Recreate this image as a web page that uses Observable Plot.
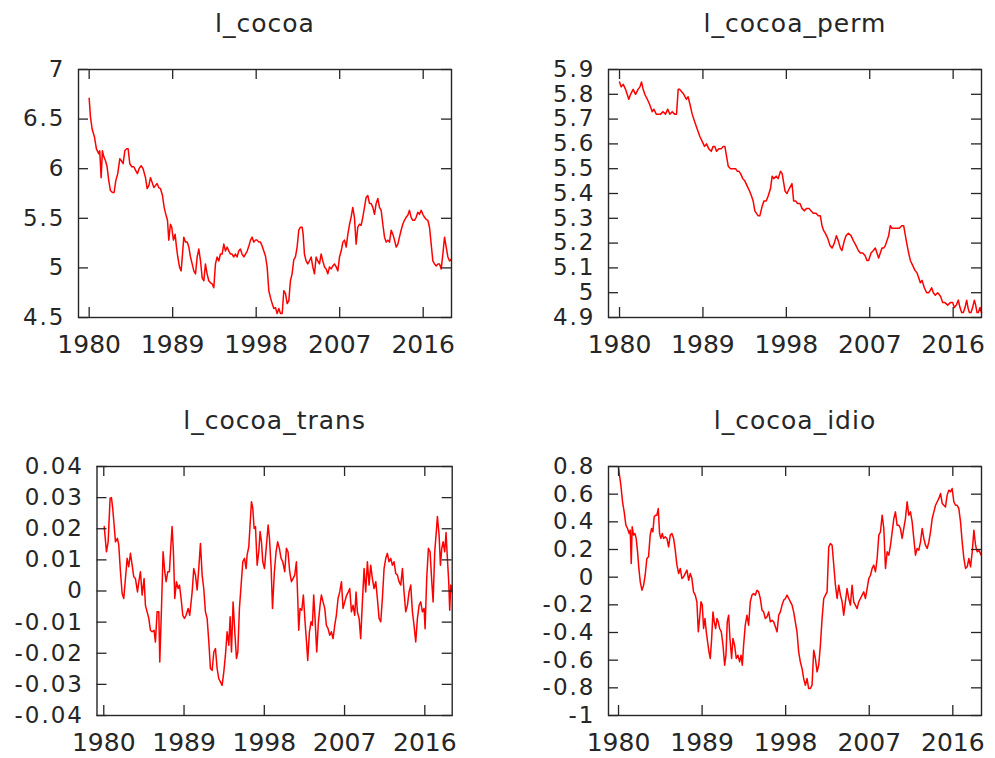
<!DOCTYPE html>
<html><head><meta charset="utf-8">
<script src="https://cdn.jsdelivr.net/npm/d3@7"></script>
<script src="https://cdn.jsdelivr.net/npm/@observablehq/plot@0.6"></script>
<style>
body{margin:0;background:#fff;}
#wrap{position:relative;width:995px;height:758px;background:#fff;overflow:hidden;}
#wrap svg{position:absolute;}
</style></head><body><div id="wrap"></div>
<script>
// ---- data: [year, value] ----
const cocoa = [[1980.0,6.71],[1980.14,6.52],[1980.32,6.40],[1980.57,6.32],[1980.78,6.20],[1981.04,6.15],[1981.14,6.18],[1981.29,5.91],[1981.43,6.18],[1981.58,6.12],[1981.76,6.08],[1981.93,6.02],[1982.11,5.88],[1982.29,5.78],[1982.51,5.76],[1982.69,5.76],[1982.87,5.88],[1983.08,5.95],[1983.3,6.10],[1983.48,6.08],[1983.66,6.05],[1983.84,6.18],[1984.02,6.20],[1984.2,6.20],[1984.38,6.05],[1984.59,6.02],[1984.81,6.02],[1985.02,5.98],[1985.2,5.95],[1985.38,6.00],[1985.6,6.03],[1985.81,6.00],[1986.07,5.91],[1986.25,5.80],[1986.43,5.83],[1986.61,5.91],[1986.79,5.86],[1986.97,5.81],[1987.15,5.83],[1987.32,5.85],[1987.5,5.81],[1987.68,5.80],[1987.9,5.73],[1988.08,5.61],[1988.26,5.54],[1988.44,5.48],[1988.58,5.28],[1988.76,5.44],[1988.9,5.41],[1989.08,5.28],[1989.26,5.34],[1989.41,5.21],[1989.55,5.11],[1989.73,5.01],[1989.91,4.97],[1990.06,5.14],[1990.2,5.31],[1990.38,5.26],[1990.56,5.26],[1990.74,5.21],[1990.92,5.11],[1991.1,5.04],[1991.28,4.97],[1991.46,4.94],[1991.64,5.11],[1991.82,5.19],[1992.0,5.07],[1992.18,4.90],[1992.36,4.87],[1992.53,5.04],[1992.71,4.94],[1992.89,4.87],[1993.07,4.85],[1993.25,4.84],[1993.43,4.80],[1993.61,5.04],[1993.79,5.11],[1993.97,5.07],[1994.15,5.14],[1994.33,5.14],[1994.51,5.24],[1994.69,5.17],[1994.87,5.21],[1995.05,5.17],[1995.23,5.14],[1995.4,5.14],[1995.58,5.11],[1995.76,5.14],[1995.94,5.11],[1996.12,5.17],[1996.3,5.19],[1996.48,5.14],[1996.67,5.11],[1996.85,5.14],[1997.03,5.17],[1997.21,5.22],[1997.39,5.28],[1997.56,5.31],[1997.74,5.26],[1997.92,5.28],[1998.1,5.28],[1998.28,5.26],[1998.46,5.26],[1998.64,5.22],[1998.82,5.17],[1999.0,5.12],[1999.18,5.01],[1999.36,4.77],[1999.54,4.70],[1999.72,4.64],[1999.9,4.59],[2000.08,4.60],[2000.26,4.54],[2000.44,4.59],[2000.62,4.54],[2000.8,4.54],[2000.98,4.77],[2001.16,4.74],[2001.34,4.64],[2001.52,4.67],[2001.69,4.87],[2001.87,4.94],[2002.05,5.08],[2002.23,5.11],[2002.41,5.21],[2002.59,5.38],[2002.77,5.41],[2002.95,5.41],[2003.06,5.34],[2003.2,5.14],[2003.38,5.07],[2003.56,5.04],[2003.74,5.07],[2003.92,5.11],[2004.1,5.01],[2004.28,4.94],[2004.46,5.11],[2004.64,5.07],[2004.82,5.04],[2005.0,5.14],[2005.18,5.07],[2005.36,5.01],[2005.54,4.99],[2005.72,4.94],[2005.9,5.01],[2006.08,4.99],[2006.26,5.02],[2006.44,5.04],[2006.62,5.01],[2006.8,4.97],[2006.98,5.11],[2007.16,5.17],[2007.34,5.26],[2007.52,5.28],[2007.7,5.21],[2007.88,5.34],[2008.06,5.44],[2008.23,5.51],[2008.41,5.61],[2008.59,5.51],[2008.77,5.24],[2008.95,5.41],[2009.13,5.44],[2009.31,5.43],[2009.49,5.51],[2009.67,5.61],[2009.85,5.71],[2010.03,5.73],[2010.21,5.65],[2010.39,5.65],[2010.57,5.61],[2010.75,5.54],[2010.93,5.65],[2011.11,5.70],[2011.29,5.61],[2011.47,5.58],[2011.65,5.44],[2011.83,5.31],[2012.01,5.26],[2012.19,5.28],[2012.37,5.26],[2012.55,5.38],[2012.73,5.34],[2012.91,5.28],[2013.09,5.21],[2013.27,5.24],[2013.44,5.31],[2013.62,5.38],[2013.8,5.44],[2013.98,5.48],[2014.16,5.51],[2014.34,5.53],[2014.52,5.58],[2014.7,5.51],[2014.88,5.48],[2015.06,5.48],[2015.24,5.51],[2015.42,5.56],[2015.6,5.54],[2015.78,5.58],[2015.96,5.54],[2016.14,5.51],[2016.32,5.49],[2016.5,5.48],[2016.68,5.41],[2016.86,5.24],[2017.04,5.07],[2017.22,5.04],[2017.4,5.02],[2017.58,5.04],[2017.76,5.04],[2017.94,4.99],[2018.12,5.14],[2018.3,5.31],[2018.48,5.21],[2018.66,5.11],[2018.84,5.07],[2019.05,5.09]];

const cocoaPerm = [[1980.0,5.85],[1980.18,5.83],[1980.4,5.84],[1980.65,5.82],[1981.0,5.78],[1981.19,5.80],[1981.47,5.82],[1981.73,5.80],[1982.0,5.82],[1982.2,5.83],[1982.37,5.85],[1982.55,5.82],[1982.73,5.80],[1983.0,5.78],[1983.24,5.76],[1983.53,5.73],[1983.7,5.74],[1983.96,5.72],[1984.17,5.72],[1984.42,5.72],[1984.7,5.73],[1984.96,5.72],[1985.2,5.74],[1985.43,5.72],[1985.68,5.73],[1985.94,5.72],[1986.15,5.72],[1986.33,5.82],[1986.5,5.82],[1986.7,5.81],[1986.94,5.80],[1987.2,5.78],[1987.4,5.79],[1987.6,5.76],[1987.84,5.72],[1988.1,5.69],[1988.38,5.66],[1988.67,5.63],[1988.92,5.61],[1989.17,5.59],[1989.39,5.60],[1989.64,5.58],[1989.9,5.57],[1990.1,5.59],[1990.28,5.59],[1990.47,5.57],[1990.72,5.58],[1990.97,5.58],[1991.19,5.59],[1991.37,5.59],[1991.55,5.55],[1991.73,5.51],[1991.98,5.50],[1992.27,5.50],[1992.52,5.50],[1992.7,5.49],[1992.88,5.49],[1993.06,5.48],[1993.3,5.46],[1993.53,5.45],[1993.78,5.43],[1994.03,5.41],[1994.24,5.39],[1994.42,5.37],[1994.6,5.33],[1994.78,5.32],[1994.96,5.31],[1995.14,5.31],[1995.4,5.35],[1995.58,5.37],[1995.83,5.37],[1996.04,5.39],[1996.29,5.42],[1996.47,5.47],[1996.65,5.46],[1996.9,5.47],[1997.12,5.46],[1997.37,5.49],[1997.55,5.48],[1997.73,5.44],[1997.86,5.41],[1998.07,5.40],[1998.32,5.42],[1998.61,5.44],[1998.79,5.37],[1999.0,5.37],[1999.22,5.36],[1999.47,5.36],[1999.69,5.34],[1999.94,5.33],[2000.19,5.34],[2000.45,5.34],[2000.66,5.33],[2000.91,5.32],[2001.2,5.32],[2001.45,5.31],[2001.67,5.31],[2001.85,5.27],[2002.03,5.25],[2002.2,5.24],[2002.46,5.22],[2002.71,5.19],[2002.93,5.18],[2003.18,5.20],[2003.4,5.23],[2003.6,5.21],[2003.83,5.18],[2004.0,5.17],[2004.26,5.21],[2004.44,5.23],[2004.7,5.24],[2004.98,5.23],[2005.23,5.21],[2005.52,5.19],[2005.77,5.17],[2005.99,5.16],[2006.24,5.16],[2006.49,5.15],[2006.7,5.13],[2006.88,5.13],[2007.14,5.16],[2007.39,5.17],[2007.6,5.18],[2007.78,5.16],[2007.96,5.14],[2008.14,5.16],[2008.32,5.18],[2008.5,5.18],[2008.68,5.19],[2008.86,5.21],[2009.04,5.23],[2009.22,5.27],[2009.4,5.26],[2009.65,5.26],[2009.94,5.26],[2010.19,5.26],[2010.45,5.27],[2010.66,5.27],[2010.8,5.24],[2010.99,5.20],[2011.2,5.16],[2011.38,5.13],[2011.63,5.11],[2011.88,5.09],[2012.1,5.08],[2012.28,5.06],[2012.46,5.04],[2012.64,5.05],[2012.89,5.02],[2013.14,5.00],[2013.36,5.00],[2013.54,5.01],[2013.68,5.02],[2013.86,5.00],[2014.08,4.99],[2014.33,5.00],[2014.55,4.99],[2014.7,4.98],[2014.87,4.96],[2015.12,4.96],[2015.41,4.95],[2015.7,4.96],[2015.95,4.96],[2016.13,4.94],[2016.35,4.95],[2016.56,4.97],[2016.74,4.94],[2016.92,4.92],[2017.1,4.92],[2017.28,4.94],[2017.46,4.97],[2017.6,4.94],[2017.75,4.92],[2017.93,4.92],[2018.1,4.94],[2018.29,4.97],[2018.43,4.95],[2018.58,4.92],[2018.72,4.92],[2018.9,4.94],[2019.06,4.92]];

const cocoaTrans = [[1980.05,0.0207],[1980.3,0.0126],[1980.49,0.0158],[1980.71,0.0298],[1980.86,0.0300],[1981.0,0.0266],[1981.16,0.0212],[1981.31,0.0158],[1981.53,0.0169],[1981.68,0.0148],[1981.87,0.0062],[1982.06,-0.0008],[1982.24,-0.0024],[1982.43,0.0040],[1982.62,0.0105],[1982.8,0.0078],[1982.99,0.0121],[1983.18,0.0083],[1983.36,0.0046],[1983.55,0.0040],[1983.78,-0.0003],[1983.93,0.0030],[1984.11,0.0062],[1984.3,-0.0013],[1984.52,0.0040],[1984.67,-0.0046],[1984.86,-0.0067],[1985.05,-0.0088],[1985.23,-0.0126],[1985.42,-0.0131],[1985.64,-0.0126],[1985.79,-0.0164],[1985.98,-0.0067],[1986.17,-0.0067],[1986.28,-0.0228],[1986.47,-0.0056],[1986.65,0.0126],[1986.84,0.0062],[1986.99,0.0030],[1987.18,0.0062],[1987.36,0.0062],[1987.55,0.0158],[1987.66,0.0207],[1987.81,0.0126],[1987.96,-0.0024],[1988.15,0.0030],[1988.34,0.0008],[1988.49,0.0019],[1988.67,-0.0024],[1988.86,-0.0078],[1989.05,-0.0088],[1989.23,-0.0078],[1989.46,-0.0056],[1989.64,-0.0078],[1989.91,-0.0003],[1990.09,0.0072],[1990.28,0.0051],[1990.47,0.0003],[1990.65,0.0072],[1990.84,0.0153],[1991.03,0.0051],[1991.21,0.0008],[1991.4,-0.0067],[1991.59,-0.0088],[1991.78,-0.0164],[1991.96,-0.0249],[1992.15,-0.0255],[1992.34,-0.0196],[1992.52,-0.0185],[1992.71,-0.0249],[1992.9,-0.0282],[1993.08,-0.0292],[1993.27,-0.0303],[1993.46,-0.0260],[1993.64,-0.0207],[1993.83,-0.0131],[1994.02,-0.0174],[1994.17,-0.0083],[1994.32,-0.0196],[1994.5,-0.0035],[1994.69,-0.0131],[1994.88,-0.0217],[1995.03,-0.0196],[1995.21,-0.0056],[1995.4,0.0019],[1995.59,0.0094],[1995.78,0.0105],[1995.96,0.0072],[1996.07,0.0115],[1996.26,0.0142],[1996.45,0.0234],[1996.56,0.0287],[1996.71,0.0266],[1996.86,0.0201],[1997.01,0.0207],[1997.2,0.0083],[1997.38,0.0126],[1997.53,0.0191],[1997.68,0.0158],[1997.83,0.0094],[1998.02,0.0072],[1998.21,0.0137],[1998.43,0.0212],[1998.58,0.0169],[1998.77,0.0072],[1998.92,-0.0056],[1999.13,0.0062],[1999.32,0.0126],[1999.5,0.0158],[1999.69,0.0137],[1999.88,0.0105],[2000.07,0.0094],[2000.29,0.0062],[2000.48,0.0137],[2000.66,0.0126],[2000.85,0.0062],[2001.04,0.0030],[2001.22,0.0040],[2001.41,0.0051],[2001.6,0.0094],[2001.75,-0.0024],[2001.86,-0.0126],[2002.01,-0.0056],[2002.2,-0.0062],[2002.38,-0.0013],[2002.57,-0.0099],[2002.76,-0.0174],[2002.87,-0.0223],[2003.06,-0.0131],[2003.24,-0.0099],[2003.39,-0.0110],[2003.54,-0.0013],[2003.69,-0.0088],[2003.88,-0.0196],[2004.07,-0.0099],[2004.25,-0.0046],[2004.4,-0.0013],[2004.59,-0.0035],[2004.78,-0.0056],[2004.96,-0.0110],[2005.15,-0.0121],[2005.34,-0.0142],[2005.52,-0.0131],[2005.71,-0.0153],[2005.9,-0.0110],[2006.08,-0.0078],[2006.27,-0.0024],[2006.46,-0.0003],[2006.65,0.0030],[2006.83,-0.0056],[2007.02,-0.0035],[2007.24,-0.0013],[2007.43,-0.0003],[2007.58,0.0008],[2007.77,-0.0067],[2007.95,-0.0046],[2008.14,-0.0078],[2008.29,-0.0003],[2008.44,-0.0067],[2008.63,-0.0088],[2008.81,-0.0153],[2009.0,-0.0035],[2009.19,0.0072],[2009.37,-0.0003],[2009.56,0.0094],[2009.75,0.0019],[2009.93,0.0083],[2010.12,0.0040],[2010.31,0.0008],[2010.5,0.0030],[2010.68,-0.0024],[2010.87,-0.0088],[2011.06,-0.0099],[2011.24,-0.0024],[2011.43,0.0072],[2011.62,0.0105],[2011.8,0.0121],[2011.99,0.0094],[2012.18,0.0105],[2012.36,0.0083],[2012.55,0.0094],[2012.74,0.0056],[2012.93,0.0051],[2013.11,0.0030],[2013.3,0.0019],[2013.49,0.0072],[2013.67,-0.0003],[2013.86,-0.0067],[2014.05,-0.0046],[2014.23,-0.0003],[2014.42,0.0019],[2014.61,-0.0067],[2014.79,-0.0110],[2014.98,-0.0164],[2015.17,-0.0088],[2015.36,-0.0046],[2015.54,-0.0035],[2015.73,-0.0067],[2015.92,-0.0056],[2016.03,-0.0121],[2016.21,0.0040],[2016.4,0.0137],[2016.59,0.0126],[2016.78,0.0030],[2016.93,-0.0035],[2017.11,0.0126],[2017.26,0.0180],[2017.41,0.0239],[2017.6,0.0180],[2017.75,0.0083],[2017.9,0.0137],[2018.05,0.0158],[2018.23,0.0126],[2018.38,0.0188],[2018.53,0.0105],[2018.68,0.0030],[2018.79,-0.0062],[2018.91,0.0019],[2019.06,-0.0003]];

const cocoaIdio = [[1980.0,0.79],[1980.25,0.665],[1980.43,0.545],[1980.61,0.472],[1980.79,0.376],[1980.97,0.352],[1981.15,0.316],[1981.26,0.340],[1981.37,0.099],[1981.47,0.364],[1981.62,0.304],[1981.76,0.316],[1981.9,0.280],[1982.05,0.183],[1982.19,0.063],[1982.34,-0.034],[1982.52,-0.094],[1982.7,-0.058],[1982.87,0.014],[1983.05,0.135],[1983.23,0.147],[1983.41,0.304],[1983.56,0.352],[1983.7,0.328],[1983.84,0.436],[1983.99,0.448],[1984.13,0.448],[1984.28,0.496],[1984.42,0.316],[1984.56,0.280],[1984.71,0.316],[1984.85,0.280],[1985.03,0.292],[1985.21,0.280],[1985.39,0.219],[1985.57,0.304],[1985.75,0.316],[1985.93,0.280],[1986.11,0.195],[1986.29,0.087],[1986.47,0.027],[1986.65,0.063],[1986.83,-0.010],[1987.01,0.002],[1987.19,0.027],[1987.37,0.051],[1987.55,-0.022],[1987.73,0.027],[1987.9,-0.010],[1988.08,-0.106],[1988.26,-0.130],[1988.44,-0.178],[1988.59,-0.395],[1988.73,-0.299],[1988.88,-0.178],[1989.02,-0.202],[1989.16,-0.371],[1989.31,-0.299],[1989.45,-0.395],[1989.59,-0.467],[1989.74,-0.540],[1989.88,-0.588],[1990.03,-0.443],[1990.17,-0.251],[1990.31,-0.323],[1990.46,-0.371],[1990.6,-0.299],[1990.74,-0.323],[1990.89,-0.371],[1991.07,-0.395],[1991.25,-0.492],[1991.43,-0.636],[1991.57,-0.564],[1991.71,-0.323],[1991.86,-0.275],[1992.0,-0.443],[1992.18,-0.588],[1992.32,-0.443],[1992.5,-0.492],[1992.68,-0.588],[1992.86,-0.564],[1993.04,-0.612],[1993.19,-0.564],[1993.33,-0.636],[1993.47,-0.492],[1993.65,-0.347],[1993.83,-0.275],[1994.01,-0.347],[1994.19,-0.178],[1994.37,-0.130],[1994.55,-0.118],[1994.73,-0.130],[1994.91,-0.094],[1995.09,-0.106],[1995.27,-0.154],[1995.45,-0.239],[1995.63,-0.251],[1995.81,-0.299],[1995.99,-0.287],[1996.17,-0.251],[1996.35,-0.323],[1996.53,-0.311],[1996.71,-0.323],[1996.89,-0.359],[1997.07,-0.395],[1997.25,-0.275],[1997.43,-0.251],[1997.61,-0.202],[1997.79,-0.166],[1997.97,-0.154],[1998.15,-0.130],[1998.33,-0.154],[1998.51,-0.178],[1998.69,-0.202],[1998.86,-0.251],[1999.22,-0.395],[1999.4,-0.540],[1999.58,-0.612],[1999.76,-0.660],[1999.94,-0.733],[2000.12,-0.781],[2000.3,-0.733],[2000.48,-0.805],[2000.66,-0.805],[2000.84,-0.781],[2001.02,-0.528],[2001.2,-0.588],[2001.38,-0.684],[2001.56,-0.636],[2001.74,-0.492],[2001.92,-0.299],[2002.1,-0.154],[2002.28,-0.130],[2002.46,-0.106],[2002.64,0.219],[2002.82,0.243],[2003.0,0.231],[2003.18,0.087],[2003.36,-0.058],[2003.54,-0.154],[2003.72,-0.058],[2003.9,-0.130],[2004.08,-0.178],[2004.25,-0.275],[2004.43,-0.178],[2004.61,-0.082],[2004.79,-0.154],[2004.97,-0.202],[2005.15,-0.058],[2005.33,-0.178],[2005.51,-0.202],[2005.69,-0.227],[2005.87,-0.178],[2006.05,-0.154],[2006.23,-0.130],[2006.41,-0.106],[2006.59,-0.154],[2006.77,-0.082],[2006.95,-0.010],[2007.13,0.014],[2007.31,0.063],[2007.49,0.087],[2007.67,0.039],[2007.85,0.135],[2008.03,0.304],[2008.21,0.328],[2008.39,0.448],[2008.57,0.352],[2008.75,0.063],[2008.93,0.183],[2009.11,0.159],[2009.29,0.231],[2009.47,0.328],[2009.65,0.424],[2009.82,0.472],[2010.0,0.376],[2010.18,0.376],[2010.36,0.352],[2010.54,0.280],[2010.72,0.352],[2010.9,0.424],[2011.08,0.545],[2011.26,0.448],[2011.44,0.472],[2011.62,0.400],[2011.8,0.280],[2011.98,0.159],[2012.16,0.207],[2012.34,0.195],[2012.52,0.255],[2012.7,0.352],[2012.88,0.280],[2013.06,0.231],[2013.24,0.207],[2013.42,0.255],[2013.6,0.328],[2013.78,0.424],[2013.96,0.472],[2014.14,0.520],[2014.32,0.545],[2014.5,0.569],[2014.68,0.605],[2014.86,0.533],[2015.04,0.520],[2015.21,0.508],[2015.39,0.593],[2015.57,0.629],[2015.75,0.617],[2015.93,0.641],[2016.11,0.545],[2016.29,0.520],[2016.47,0.520],[2016.65,0.496],[2016.83,0.400],[2017.01,0.255],[2017.19,0.135],[2017.37,0.063],[2017.55,0.075],[2017.73,0.135],[2017.91,0.075],[2018.09,0.183],[2018.27,0.340],[2018.45,0.231],[2018.63,0.183],[2018.81,0.195],[2019.06,0.159]];

// ---- tick values / labels ----
const xTicks = [1980, 1989, 1998, 2007, 2016];
const cocoaTicks = [4.5, 5, 5.5, 6, 6.5, 7];
const permTicks = [4.9, 5, 5.1, 5.2, 5.3, 5.4, 5.5, 5.6, 5.7, 5.8, 5.9];
const transTicks = [-0.04, -0.03, -0.02, -0.01, 0, 0.01, 0.02, 0.03, 0.04];
const idioTicks = [-1, -0.8, -0.6, -0.4, -0.2, 0, 0.2, 0.4, 0.6, 0.8];
const titles = ["l_cocoa", "l_cocoa_perm", "l_cocoa_trans", "l_cocoa_idio"];

// ---- layout (pixels) ----
const layout = [
  {left: 0,   top: 0,   width: 497, height: 379, mL: 78,   mR: 46,   mT: 69, mB: 62, x: [1978.85, 2019.05]},
  {left: 497, top: 0,   width: 498, height: 379, mL: 111,  mR: 14,   mT: 69, mB: 62, x: [1978.81, 2019.06]},
  {left: 0,   top: 379, width: 497, height: 379, mL: 96.5, mR: 45.3, mT: 87, mB: 43, x: [1979.24, 2019.07]},
  {left: 497, top: 379, width: 498, height: 379, mL: 111,  mR: 14,   mT: 87, mB: 43, x: [1978.92, 2019.09]}
];
const series = [cocoa, cocoaPerm, cocoaTrans, cocoaIdio];
const yTicksAll = [cocoaTicks, permTicks, transTicks, idioTicks];

const fmtY = d => String(Math.round(d * 100) / 100);
const ink = "#262626";
const tickLen = 10;
const wrap = document.getElementById("wrap");

series.forEach((data, i) => {
  const L = layout[i];
  const yT = yTicksAll[i];
  const W = L.width - L.mL - L.mR;
  const H = L.height - L.mT - L.mB;
  const chart = Plot.plot({
    width: L.width, height: L.height,
    marginLeft: L.mL, marginRight: L.mR, marginTop: L.mT, marginBottom: L.mB,
    x: {domain: L.x},
    y: {domain: [yT[0], yT[yT.length - 1]]},
    style: {fontFamily: "'DejaVu Sans', Verdana, sans-serif", color: ink, background: "transparent", overflow: "visible"},
    marks: [
      Plot.line(data, {x: d => d[0], y: d => d[1], stroke: "#ff0000", strokeWidth: 1.5}),
      Plot.ruleX(xTicks, {x: d => d, insetTop: H - tickLen, stroke: ink, strokeWidth: 1.3}),
      Plot.ruleX(xTicks, {x: d => d, insetBottom: H - tickLen, stroke: ink, strokeWidth: 1.3}),
      Plot.ruleY(yT, {y: d => d, insetRight: W - tickLen, stroke: ink, strokeWidth: 1.3}),
      Plot.ruleY(yT, {y: d => d, insetLeft: W - tickLen, stroke: ink, strokeWidth: 1.3}),
      Plot.frame({stroke: ink, strokeWidth: 1.4}),
      Plot.axisX({ticks: xTicks, tickSize: 0, tickPadding: 18, tickFormat: d => String(d), label: null, fontSize: 25}),
      Plot.axisY({ticks: yT, tickSize: 0, tickPadding: 13, tickFormat: fmtY, label: null, fontSize: 23}),
      Plot.text([titles[i]], {text: d => d, frameAnchor: "top", dy: -38, lineAnchor: "bottom", fontSize: 25, fill: ink})
    ]
  });
  chart.style.left = L.left + "px";
  chart.style.top = L.top + "px";
  chart.querySelectorAll('g[aria-label="y-axis tick label"] text').forEach(t => t.style.letterSpacing = "2px");
  chart.querySelectorAll('g[aria-label="text"] text').forEach(t => t.style.letterSpacing = "1px");
  wrap.appendChild(chart);
});
</script>
</body></html>
